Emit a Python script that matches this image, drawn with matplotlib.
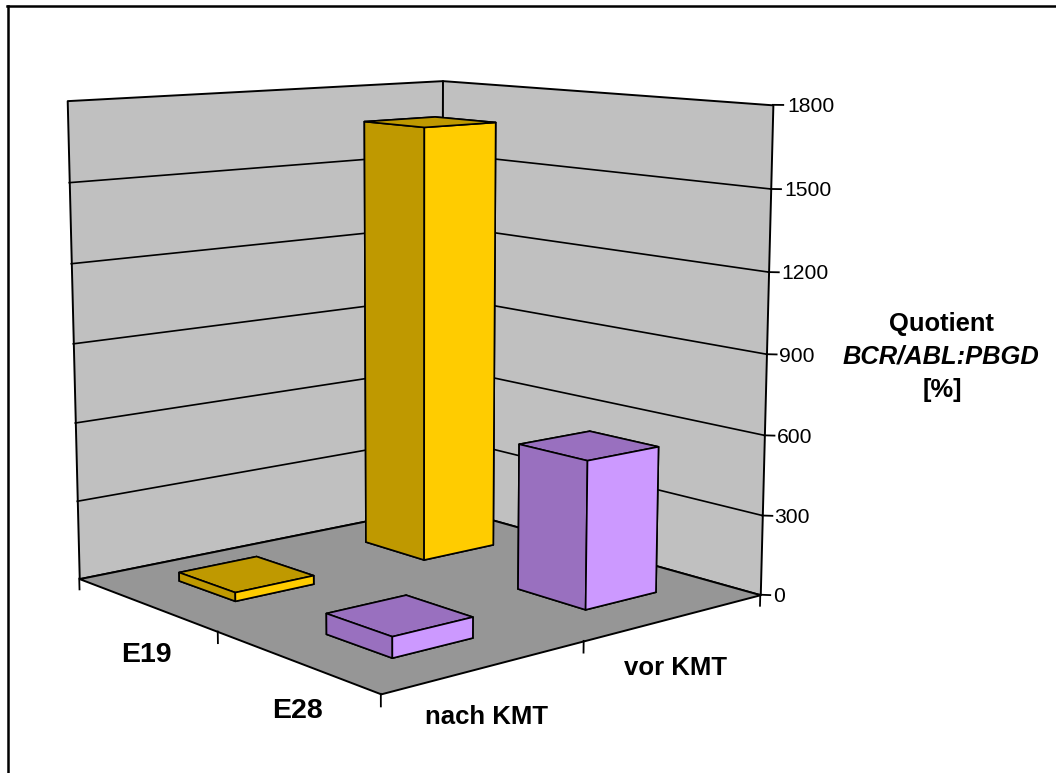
import numpy as np
import matplotlib
matplotlib.use("Agg")
import matplotlib.pyplot as plt
from matplotlib.lines import Line2D
from mpl_toolkits.mplot3d.art3d import Poly3DCollection

plt.rcParams['font.family'] = ['Liberation Sans', 'DejaVu Sans']

# ---- data ----
series = ['E19', 'E28']
categories = ['nach KMT', 'vor KMT']
e19_values = [33, 1680]
e28_values = [75, 550]
z_ticks = [0, 300, 600, 900, 1200, 1500, 1800]
z_max = 1800

W, H = 1056, 773
fig = plt.figure(figsize=(W / 100, H / 100), dpi=100, facecolor='white')
ax = fig.add_axes([0, 0, 1, 1], projection='3d')
ax.set_axis_off()
ax.apply_aspect = lambda position=None: None
ax.computed_zorder = False

# camera: calibrated from box corners -> canvas pixels
world = np.array([(0, 0, 0), (2, 0, 0), (2, 2, 0), (0, 2, 0),
                  (0, 0, z_max), (0, 2, z_max), (2, 2, z_max)], float)
pix = np.array([(79, 578.7), (381, 693.7), (760, 595), (442, 505.5),
                (67.3, 100.7), (442.3, 80.7), (773, 104.7)], float)
A, b = [], []
for (X, Y, Z), (u, v) in zip(world, pix):
    A.append([X, Y, Z, 1, 0, 0, 0, 0, -u * X, -u * Y, -u * Z]); b.append(u)
    A.append([0, 0, 0, 0, X, Y, Z, 1, -v * X, -v * Y, -v * Z]); b.append(v)
p = np.linalg.lstsq(np.array(A), np.array(b), rcond=None)[0]
P = np.append(p, 1).reshape(3, 4)
vl = ax.viewLim
x0, x1, y0, y1 = vl.x0, vl.x1, vl.y0, vl.y1
S = np.array([[(x1 - x0) / W, 0, x0], [0, (y0 - y1) / H, y1], [0, 0, 1]])
Q = S @ P
M = np.vstack([Q[0], Q[1], [0, 0, 0, -1], Q[2]])
ax.get_proj = lambda: M

# walls and floor
wall_col, floor_col = '#C0C0C0', '#969696'
lw = 1.4
left_wall = [(0, 0, 0), (0, 2, 0), (0, 2, z_max), (0, 0, z_max)]
right_wall = [(0, 2, 0), (2, 2, 0), (2, 2, z_max), (0, 2, z_max)]
floor = [(0, 0, 0), (2, 0, 0), (2, 2, 0), (0, 2, 0)]
for poly, col in [(left_wall, wall_col), (right_wall, wall_col), (floor, floor_col)]:
    ax.add_collection3d(Poly3DCollection([poly], facecolors=col, edgecolors='black',
                                         linewidths=lw, zorder=1))
for v in z_ticks[1:-1]:
    ax.plot([0, 0, 2], [0, 2, 2], [v, v, v], color='black', lw=1.2, zorder=2)

# ticks
for v in z_ticks:
    ax.plot([2, 2.03], [2, 2.027], [v, v], color='black', lw=1.3, zorder=2)
for x in [0, 1, 2]:
    ax.plot([x, x], [0, 0], [0, -42], color='black', lw=1.3, zorder=2)
ax.plot([2, 2], [1, 1], [0, -42], color='black', lw=1.3, zorder=2)
ax.plot([2, 2], [2, 2], [0, -42], color='black', lw=1.3, zorder=2)

# bars
bar_w = 0.40
styles = {'E19': ('#FFCC00', '#BF9900'), 'E28': ('#CC99FF', '#9970BF')}
order = [(0, 1, e19_values[1]), (0, 0, e19_values[0]), (1, 1, e28_values[1]), (1, 0, e28_values[0])]
for zo, (si, ci, val) in enumerate(order):
    bright, dark = styles[series[si]]
    # face order: bottom, top, -y, +y, -x, +x
    ax.bar3d(si + 0.5 - bar_w / 2, ci + 0.5 - bar_w / 2, 0, bar_w, bar_w, val,
             color=[dark, dark, dark, dark, dark, bright], shade=False,
             edgecolor='black', linewidth=1.2, zorder=3 + zo)
ax.set_xlim(0, 2); ax.set_ylim(0, 2); ax.set_zlim(0, z_max)

def ptext(px, py, s, **kw):
    fig.text(px / W, 1 - py / H, s, va='baseline', **kw)

tick_px = [(773, 601.7), (774, 523), (777, 442.7), (779, 362), (781, 279), (784, 195.7), (787, 112.3)]
for (px, py), v in zip(tick_px, z_ticks):
    ptext(px, py, str(v), fontsize=15.2, ha='left')

ptext(146.5, 661.7, series[0], fontsize=20.5, fontweight='bold', ha='center')
ptext(297.5, 718, series[1], fontsize=20.5, fontweight='bold', ha='center')
ptext(486.7, 724.3, categories[0], fontsize=18.5, fontweight='bold', ha='center')
ptext(675, 675, categories[1], fontsize=18.5, fontweight='bold', ha='center')
ptext(942, 330.7, 'Quotient', fontsize=18.4, fontweight='bold', ha='center')
ptext(941, 363, 'BCR/ABL:PBGD', fontsize=18.4, fontweight='bold', fontstyle='italic', ha='center')
ptext(942, 397, '[%]', fontsize=18.4, fontweight='bold', ha='center')

# outer frame: only left and top sides are inside the picture
for xs, ys in [((8, 8), (0, H - 6)), ((7, W), (H - 6, H - 6))]:
    fig.add_artist(Line2D([x / W for x in xs], [y / H for y in ys], color='black', lw=1.8,
                          transform=fig.transFigure))

fig.savefig('out.png', dpi=100)
